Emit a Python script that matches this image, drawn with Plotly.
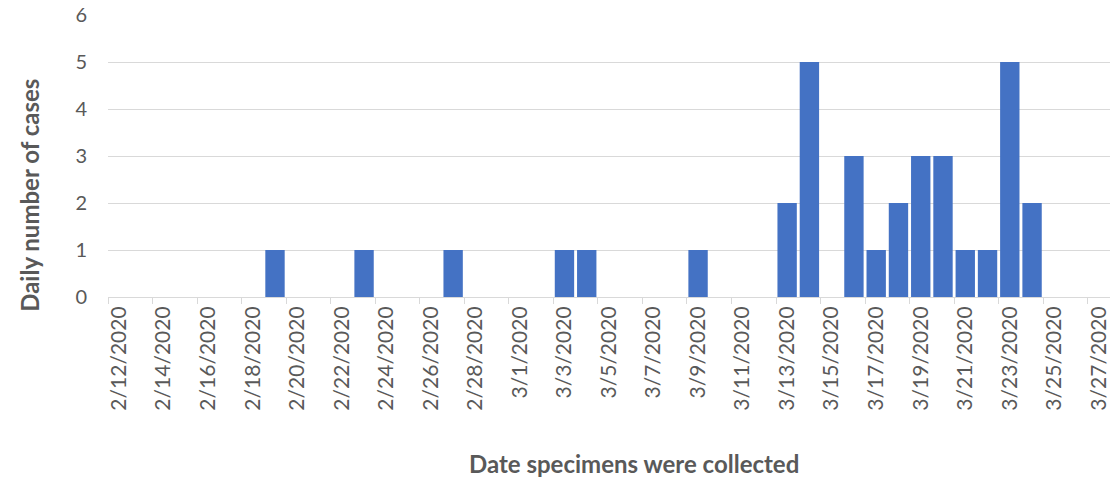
import plotly.graph_objects as go

dates = [
    "2/12/2020", "2/13/2020", "2/14/2020", "2/15/2020", "2/16/2020", "2/17/2020",
    "2/18/2020", "2/19/2020", "2/20/2020", "2/21/2020", "2/22/2020", "2/23/2020",
    "2/24/2020", "2/25/2020", "2/26/2020", "2/27/2020", "2/28/2020", "2/29/2020",
    "3/1/2020", "3/2/2020", "3/3/2020", "3/4/2020", "3/5/2020", "3/6/2020",
    "3/7/2020", "3/8/2020", "3/9/2020", "3/10/2020", "3/11/2020", "3/12/2020",
    "3/13/2020", "3/14/2020", "3/15/2020", "3/16/2020", "3/17/2020", "3/18/2020",
    "3/19/2020", "3/20/2020", "3/21/2020", "3/22/2020", "3/23/2020", "3/24/2020",
    "3/25/2020", "3/26/2020", "3/27/2020",
]
cases = [
    0, 0, 0, 0, 0, 0,
    0, 1, 0, 0, 0, 1,
    0, 0, 0, 1, 0, 0,
    0, 0, 1, 1, 0, 0,
    0, 0, 1, 0, 0, 0,
    2, 5, 0, 3, 1, 2,
    3, 3, 1, 1, 5, 2,
    0, 0, 0,
]

FONT = "Lato"
GRAY = "#595959"

fig = go.Figure(go.Bar(
    x=dates, y=cases,
    marker=dict(color="#4472C4", line=dict(width=0)),
))

fig.update_layout(
    width=1112, height=477,
    margin=dict(l=108, r=2, t=15, b=180, autoexpand=False),
    paper_bgcolor="white", plot_bgcolor="white",
    bargap=0.13,
    showlegend=False,
    font=dict(family=FONT, color=GRAY),
    annotations=[
        dict(text="<b>Date specimens were collected</b>", xref="paper", yref="paper",
             x=0.525, y=-0.589, xanchor="center", yanchor="middle", showarrow=False,
             font=dict(size=24, color=GRAY, family=FONT)),
        dict(text="<b>Daily number of cases</b>", xref="paper", yref="paper",
             x=-0.078, y=0.362, xanchor="center", yanchor="middle", showarrow=False,
             textangle=-90, font=dict(size=24, color=GRAY, family=FONT)),
    ],
)
fig.update_xaxes(
    type="category", automargin=False,
    tickmode="linear", tick0=0, dtick=2,
    tickson="boundaries",
    ticks="outside", ticklen=6, tickcolor="#d9d9d9",
    tickangle=-90,
    tickfont=dict(size=21, color=GRAY, family=FONT),
    showline=True, linecolor="#d9d9d9", linewidth=1,
    showgrid=False,
)
fig.update_yaxes(
    range=[0, 6], dtick=1, automargin=False,
    showgrid=True, gridcolor="#d9d9d9", gridwidth=1,
    zeroline=False, showline=False,
    tickfont=dict(size=20, color=GRAY, family=FONT),
    ticklabelstandoff=20,
)

fig.write_html("out.html", config={"displayModeBar": False})

with open("out.html", "r", encoding="utf-8") as f:
    html = f.read()
html = html.replace("<head>", "<head><style>html,body{margin:0;padding:0;overflow:hidden;}</style>", 1)
with open("out.html", "w", encoding="utf-8") as f:
    f.write(html)
